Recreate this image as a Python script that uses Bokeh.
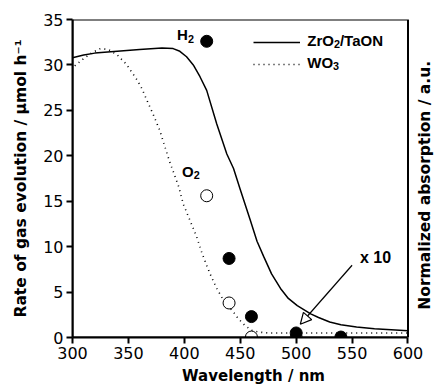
import math
from bokeh.plotting import figure
from bokeh.models import (Range1d, FixedTicker, Label, Arrow, NormalHead,
                          Legend, LegendItem, BoxAnnotation)
from bokeh.embed import file_html
from bokeh.resources import INLINE

# ---- data ----
taon_wl = [300, 310, 320, 340, 360, 380, 390, 396, 402, 408, 414, 420, 429, 438, 444,
           450, 459, 465, 471, 478, 486, 493, 501, 513, 520, 530, 540, 554, 570, 585, 600]
taon_abs = [30.8, 31.1, 31.3, 31.5, 31.7, 31.85, 31.8, 31.5, 30.9, 30.0, 28.7, 27.2, 23.5,
            20.2, 18.6, 16.3, 12.9, 10.6, 8.9, 7.0, 5.4, 4.3, 3.5, 2.6, 2.2, 1.7, 1.4,
            1.15, 0.95, 0.85, 0.75]

wo3_wl = [302, 310, 318, 325, 332, 340, 348, 353, 358, 362, 368, 372, 378, 387, 395, 399,
          405, 411, 416, 423, 429, 435, 444, 448, 454, 460, 466, 475, 520, 600]
wo3_abs = [29.9, 30.7, 31.4, 31.8, 31.7, 31.1, 30.1, 29.2, 28.3, 27.4, 25.7, 24.6, 22.8,
           19.3, 16.6, 14.7, 12.9, 11.1, 9.2, 7.0, 5.4, 4.1, 2.8, 2.1, 1.35, 0.8, 0.6,
           0.5, 0.5, 0.5]

h2_wl = [420, 440, 460, 500, 540]
h2_rate = [32.6, 8.7, 2.3, 0.5, 0.05]

o2_wl = [420, 440, 460, 500]
o2_rate = [15.6, 3.8, 0.05, 0.0]

x_ticks = [300, 350, 400, 450, 500, 550, 600]
y_ticks = [0, 5, 10, 15, 20, 25, 30, 35]

AXFONT = "DejaVu Sans"
FONT = "Liberation Sans"
X_MIN, X_MAX = 300, 600
Y_MIN, Y_MAX = 0, 35
X_VIEW_MAX = 623.7   # extra room right of the plot box for the right-hand label

p = figure(width=434, height=392, output_backend="svg", toolbar_location=None,
           x_range=Range1d(X_MIN, X_VIEW_MAX), y_range=Range1d(Y_MIN, Y_MAX),
           min_border_left=72, min_border_right=0, min_border_top=19,
           min_border_bottom=55)
p.grid.visible = False
p.outline_line_color = None
p.background_fill_color = "white"
p.border_fill_color = "white"

for ax in (p.xaxis[0], p.yaxis[0]):
    ax.axis_line_width = 2
    ax.major_tick_line_width = 2
    ax.major_tick_in = 0
    ax.major_tick_out = 6
    ax.minor_tick_line_color = None
    ax.major_label_text_font = AXFONT
    ax.major_label_text_font_size = "16px"
    ax.major_label_text_color = "black"
    ax.axis_label_text_font = AXFONT
    ax.axis_label_text_font_style = "bold"
    ax.axis_label_text_color = "black"

p.xaxis.bounds = (X_MIN, X_MAX)
p.xaxis.axis_label_text_font_size = "15px"
p.yaxis.axis_label_text_font_size = "15.5px"
p.xaxis.ticker = FixedTicker(ticks=x_ticks)
p.yaxis.ticker = FixedTicker(ticks=y_ticks)
p.xaxis.axis_label = "Wavelength / nm"
p.yaxis.axis_label = "Rate of gas evolution / \u03bcmol h\u207b\u00b9"
p.xaxis.major_label_standoff = 3
p.yaxis.major_label_standoff = 3
p.xaxis.axis_label_standoff = 5
p.yaxis.axis_label_standoff = 10

# plot box border
p.add_layout(BoxAnnotation(left=X_MIN, right=X_MAX, bottom=Y_MIN, top=Y_MAX,
                           fill_color=None, fill_alpha=0, line_color="black",
                           line_alpha=1, line_width=2))

# curves
r_taon = p.line(taon_wl, taon_abs, line_color="black", line_width=1.5)
r_wo3 = p.line(wo3_wl, wo3_abs, line_color="black", line_width=1.6, line_dash="1 4")

# points
p.scatter(o2_wl, o2_rate, marker="circle", size=12, fill_color="white",
          line_color="black", line_width=1)
p.scatter(h2_wl, h2_rate, marker="circle", size=12, fill_color="black",
          line_color="black")

legend = Legend(items=[LegendItem(label=" ", renderers=[r_taon]),
                       LegendItem(label=" ", renderers=[r_wo3])],
                location=(181, 263), padding=0, margin=0, spacing=2,
                glyph_width=47, glyph_height=20, label_height=20,
                label_standoff=7, border_line_color=None,
                background_fill_alpha=0,
                label_text_font=FONT, label_text_font_size="15px",
                label_text_font_style="bold")
p.add_layout(legend)

WIDTHS = {"H": .722, "O": .778, "Z": .611, "r": .389, "/": .278, "T": .611,
          "a": .556, "N": .722, "W": .944, "2": .556, "3": .556, "x": .556,
          " ": .278, "1": .556, "0": .556}

def estimate_width(txt, fs):
    return sum(WIDTHS.get(c, .6) for c in txt) * fs

def chem(x, y, parts, size=15):
    """Draw a formula made of (text, is_subscript) parts, left-aligned at x."""
    off = 0.0
    for txt, sub in parts:
        fs = size * 0.72 if sub else size
        p.add_layout(Label(x=x, y=y, x_offset=off, y_offset=(-4 if sub else 0),
                           text=txt, text_font=FONT, text_font_size=f"{fs:.1f}px",
                           text_font_style="bold", text_color="black",
                           text_baseline="middle"))
        off += estimate_width(txt, fs)

chem(393.5, 33.3, [("H", False), ("2", True)])
chem(398, 18.3, [("O", False), ("2", True)])
chem(509.9, 32.7, [("ZrO", False), ("2", True), ("/TaON", False)])
chem(509.9, 30.3, [("WO", False), ("3", True)])
p.add_layout(Label(x=557, y=8.8, text="x 10", text_font=FONT, text_font_size="16px",
                   text_font_style="bold", text_color="black", text_baseline="middle"))

p.add_layout(Arrow(x_start=550, y_start=7.95, x_end=503.7, y_end=1.46,
                   line_color="black", line_width=1.2,
                   end=NormalHead(size=11, fill_color="white", line_color="black",
                                  line_width=1.2)))

# right-hand axis title, reading bottom to top
p.add_layout(Label(x=615.5, y=16.75, text="Normalized absorption / a.u.",
                   angle=math.pi / 2, text_align="center", text_baseline="middle",
                   text_font=AXFONT, text_font_size="15.5px", text_font_style="bold",
                   text_color="black"))

open("out.html", "w").write(file_html(p, INLINE))
